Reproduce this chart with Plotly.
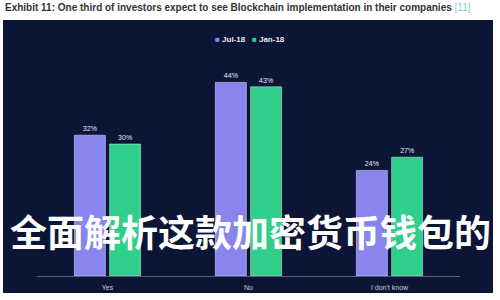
import plotly.graph_objects as go

categories = ["Yes", "No", "I don't know"]
jul18 = [32, 44, 24]
jan18 = [30, 43, 27]
series_names = ["Jul-18", "Jan-18"]

W, H = 500, 300
ML, MR, MT, MB = 3, 7, 20, 7
PW, PH = W - ML - MR, H - MT - MB

def px(x):
    return (x - ML) / PW

def py(y):
    return (H - MB - y) / PH

PURPLE = "#8886ee"
GREEN = "#2fcf8c"
PANEL = "#0b1535"

fig = go.Figure()
fig.add_trace(go.Bar(x=categories, y=jul18, name=series_names[0], marker_color=PURPLE,
                     texttemplate="%{y}%", textposition="outside",
                     textfont=dict(size=7, color="#e8eaf2", family="Arial"),
                     cliponaxis=False, showlegend=False))
fig.add_trace(go.Bar(x=categories, y=jan18, name=series_names[1], marker_color=GREEN,
                     texttemplate="%{y}%", textposition="outside",
                     textfont=dict(size=7, color="#e8eaf2", family="Arial"),
                     cliponaxis=False, showlegend=False))

fig.update_layout(
    width=W, height=H,
    margin=dict(l=ML, r=MR, t=MT, b=MB, pad=0),
    paper_bgcolor="white",
    plot_bgcolor=PANEL,
    barmode="group",
    bargap=0.5,
    bargroupgap=0.12,
    showlegend=False,
    shapes=[dict(type="rect", xref="paper", yref="paper", x0=0, x1=1, y0=0, y1=1,
                 fillcolor=PANEL, line=dict(width=0), layer="below")],
    xaxis=dict(domain=[px(37), px(460)], showline=True, linecolor="#59607a", linewidth=1,
               ticks="", showgrid=False, zeroline=False, ticklabelstandoff=5,
               tickfont=dict(size=7, color="#c9cdd8", family="Arial")),
    yaxis=dict(domain=[py(276), py(56)], range=[0, 50], visible=False, showgrid=False),
    annotations=[
        dict(x=px(3), y=py(8), xref="paper", yref="paper", xanchor="left", yanchor="middle",
             showarrow=False,
             text="<b>Exhibit 11: One third of investors expect to see Blockchain implementation in their companies</b> <span style='color:#8ccfc6'>[11]</span>",
             font=dict(size=10, color="#333333", family="Arial")),
        dict(x=px(250), y=py(40), xref="paper", yref="paper", xanchor="center", yanchor="middle",
             showarrow=False,
             text=f"<span style='color:{PURPLE}'>■</span> <b>{series_names[0]}</b>   <span style='color:{GREEN}'>■</span> <b>{series_names[1]}</b>",
             font=dict(size=8, color="#e8eaf2", family="Arial")),
        dict(x=px(250), y=py(231), xref="paper", yref="paper", xanchor="center", yanchor="middle",
             showarrow=False,
             text="<b>全面解析这款加密货币钱包的</b>",
             font=dict(size=37, color="white", family="Noto Sans CJK SC")),
    ],
)

fig.write_html("out.html")
